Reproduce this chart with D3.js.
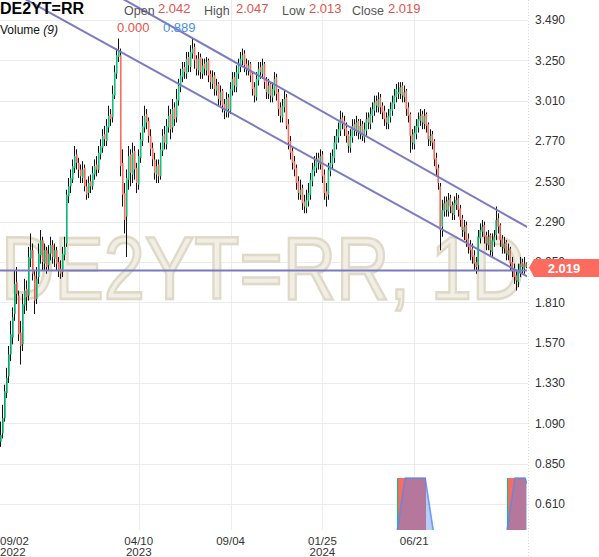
<!DOCTYPE html>
<html><head><meta charset="utf-8">
<script src="https://cdn.jsdelivr.net/npm/d3@7"></script>
<style>html,body{margin:0;padding:0;background:#fff;overflow:hidden}svg{display:block}text{font-family:"Liberation Sans",Arial,sans-serif}</style>
</head><body><svg id="c" width="599" height="557"></svg>
<script>
// ---------------- DATA ----------------
const symbol = "DE2YT=RR";
const watermarkText = "DE2YT=RR, 1D";
const open = [0.98,1.03,1.12,1.27,1.37,1.50,1.60,1.74,1.93,1.85,
1.63,1.56,1.79,1.89,1.85,2.07,2.12,1.97,1.83,1.96,
2.09,2.18,2.04,2.12,2.03,2.10,2.15,2.07,2.12,2.05,
2.01,1.99,2.09,2.16,2.44,2.50,2.54,2.61,2.69,2.64,
2.60,2.55,2.61,2.50,2.46,2.53,2.50,2.57,2.63,2.60,
2.69,2.73,2.81,2.77,2.85,2.93,2.91,3.04,3.17,3.27,
3.28,2.64,2.46,2.32,2.54,2.69,2.57,2.71,2.61,2.51,
2.67,2.77,2.85,2.93,2.89,2.80,2.73,2.66,2.57,2.63,
2.56,2.71,2.81,2.75,2.85,2.93,2.85,2.97,2.91,3.01,
3.09,3.15,3.21,3.17,3.27,3.21,3.29,3.33,3.26,3.19,
3.27,3.17,3.23,3.19,3.25,3.17,3.11,3.16,3.07,3.11,
3.01,3.07,2.99,2.94,3.03,2.95,3.07,3.15,3.09,3.17,
3.21,3.25,3.29,3.23,3.19,3.23,3.17,3.09,3.03,3.13,
3.21,3.17,3.23,3.13,3.05,3.11,3.03,3.07,3.15,3.06,
2.97,2.91,2.97,3.03,2.87,2.77,2.71,2.65,2.61,2.53,
2.45,2.49,2.41,2.37,2.41,2.45,2.53,2.59,2.61,2.67,
2.63,2.69,2.57,2.47,2.45,2.59,2.63,2.67,2.75,2.79,
2.83,2.91,2.89,2.85,2.81,2.73,2.79,2.87,2.83,2.89,
2.81,2.87,2.79,2.83,2.91,2.87,2.92,2.95,3.01,2.97,
3.03,2.98,2.95,2.91,2.87,2.91,2.95,2.99,3.03,3.05,
3.05,3.10,3.03,3.07,2.97,2.93,2.81,2.75,2.81,2.85,
2.89,2.93,2.87,2.93,2.87,2.77,2.81,2.77,2.67,2.61,
2.50,2.26,2.35,2.41,2.35,2.43,2.39,2.33,2.39,2.43,
2.37,2.31,2.23,2.27,2.19,2.15,2.13,2.09,2.05,2.03,
2.19,2.23,2.27,2.21,2.15,2.21,2.11,2.17,2.21,2.31,
2.27,2.19,2.13,2.17,2.09,2.13,2.05,2.01,1.97,1.93,
1.99,2.05,2.01,2.042];
const high = [1.10,1.20,1.32,1.42,1.55,1.70,1.78,2.00,2.02,1.88,
1.70,1.86,1.95,1.94,2.14,2.22,2.16,2.00,2.02,2.16,
2.24,2.20,2.16,2.14,2.15,2.20,2.18,2.16,2.14,2.08,
2.06,2.14,2.20,2.48,2.55,2.60,2.66,2.74,2.72,2.67,
2.63,2.65,2.63,2.54,2.56,2.57,2.62,2.66,2.68,2.74,
2.78,2.84,2.86,2.90,2.98,2.96,3.10,3.22,3.32,3.38,
3.32,2.72,2.52,2.60,2.74,2.72,2.76,2.74,2.64,2.72,
2.82,2.92,2.98,2.96,2.91,2.84,2.76,2.70,2.66,2.66,
2.76,2.84,2.86,2.90,2.98,2.96,3.02,3.00,3.08,3.14,
3.20,3.24,3.24,3.30,3.30,3.34,3.38,3.35,3.28,3.30,
3.29,3.26,3.26,3.27,3.26,3.19,3.19,3.18,3.14,3.12,
3.10,3.08,3.02,3.06,3.05,3.12,3.18,3.18,3.22,3.26,
3.30,3.32,3.31,3.26,3.25,3.24,3.18,3.12,3.18,3.24,
3.24,3.26,3.24,3.15,3.14,3.12,3.12,3.18,3.17,3.08,
3.00,3.02,3.07,3.05,2.90,2.80,2.74,2.68,2.63,2.56,
2.54,2.51,2.45,2.48,2.52,2.58,2.64,2.68,2.70,2.70,
2.72,2.71,2.60,2.52,2.64,2.70,2.72,2.80,2.84,2.88,
2.95,2.94,2.92,2.88,2.83,2.84,2.90,2.90,2.92,2.90,
2.90,2.89,2.88,2.94,2.94,2.97,3.00,3.04,3.04,3.06,
3.05,3.00,2.98,2.94,2.96,3.00,3.04,3.08,3.11,3.12,
3.12,3.12,3.10,3.08,3.00,2.94,2.84,2.86,2.90,2.94,
2.96,2.95,2.96,2.94,2.88,2.84,2.83,2.78,2.70,2.63,
2.52,2.42,2.44,2.44,2.46,2.45,2.41,2.44,2.46,2.45,
2.39,2.33,2.30,2.29,2.22,2.18,2.16,2.12,2.08,2.24,
2.28,2.30,2.29,2.23,2.24,2.22,2.22,2.24,2.38,2.34,
2.28,2.21,2.20,2.18,2.16,2.14,2.08,2.04,2.00,2.04,
2.08,2.07,2.08,2.047];
const low = [0.95,1.00,1.10,1.24,1.33,1.46,1.56,1.70,1.80,1.58,
1.44,1.52,1.74,1.76,1.82,2.02,1.94,1.74,1.80,1.92,
2.04,2.00,2.00,1.98,2.00,2.06,2.04,2.02,2.00,1.96,
1.95,1.96,2.06,2.14,2.40,2.46,2.52,2.58,2.60,2.55,
2.52,2.52,2.47,2.42,2.43,2.46,2.48,2.54,2.56,2.58,
2.66,2.70,2.74,2.74,2.82,2.86,2.88,3.02,3.14,3.24,
2.56,2.38,2.22,2.08,2.48,2.50,2.52,2.54,2.46,2.48,
2.64,2.74,2.82,2.84,2.76,2.68,2.62,2.54,2.52,2.52,
2.54,2.68,2.72,2.72,2.82,2.78,2.82,2.86,2.88,2.98,
3.06,3.12,3.14,3.14,3.18,3.18,3.26,3.20,3.16,3.16,
3.14,3.14,3.16,3.16,3.12,3.08,3.08,3.04,3.04,2.98,
2.98,2.94,2.90,2.91,2.91,2.93,3.04,3.06,3.06,3.14,
3.18,3.22,3.18,3.16,3.16,3.12,3.04,3.00,3.01,3.10,
3.14,3.14,3.08,3.02,3.02,3.00,3.00,3.04,3.01,2.92,
2.88,2.88,2.94,2.84,2.72,2.66,2.60,2.56,2.48,2.42,
2.42,2.36,2.34,2.34,2.38,2.42,2.50,2.56,2.58,2.60,
2.60,2.52,2.42,2.38,2.42,2.56,2.60,2.64,2.72,2.76,
2.80,2.84,2.80,2.76,2.70,2.70,2.76,2.80,2.80,2.78,
2.78,2.77,2.76,2.80,2.84,2.84,2.88,2.92,2.94,2.94,
2.93,2.90,2.86,2.84,2.84,2.88,2.92,2.96,3.00,3.02,
3.02,3.00,3.00,2.92,2.88,2.70,2.72,2.72,2.78,2.82,
2.86,2.84,2.84,2.82,2.74,2.74,2.72,2.62,2.56,2.48,
2.12,2.20,2.32,2.32,2.32,2.34,2.30,2.30,2.36,2.32,
2.26,2.20,2.18,2.14,2.10,2.06,2.04,2.00,1.98,2.00,
2.16,2.20,2.16,2.12,2.12,2.08,2.08,2.14,2.18,2.22,
2.14,2.10,2.10,2.06,2.06,2.00,1.96,1.92,1.88,1.90,
1.96,1.98,1.98,2.013];
const close = [1.02,1.12,1.28,1.36,1.50,1.62,1.72,1.92,1.86,1.62,
1.55,1.80,1.88,1.84,2.08,2.12,1.98,1.82,1.95,2.10,
2.18,2.05,2.12,2.02,2.10,2.15,2.08,2.12,2.04,2.00,
1.98,2.10,2.14,2.45,2.50,2.55,2.62,2.68,2.64,2.60,
2.56,2.60,2.50,2.45,2.52,2.50,2.58,2.62,2.60,2.70,
2.74,2.80,2.78,2.86,2.92,2.90,3.05,3.18,3.28,3.30,
2.62,2.45,2.30,2.55,2.68,2.58,2.70,2.60,2.52,2.68,
2.78,2.86,2.92,2.88,2.80,2.72,2.66,2.58,2.62,2.56,
2.72,2.80,2.76,2.86,2.92,2.84,2.96,2.90,3.02,3.10,
3.16,3.20,3.18,3.26,3.22,3.30,3.32,3.25,3.20,3.26,
3.18,3.22,3.20,3.24,3.16,3.12,3.15,3.08,3.10,3.02,
3.06,2.98,2.95,3.02,2.96,3.08,3.14,3.10,3.18,3.22,
3.26,3.28,3.22,3.20,3.22,3.16,3.08,3.04,3.14,3.20,
3.18,3.22,3.12,3.06,3.10,3.04,3.08,3.14,3.05,2.96,
2.92,2.98,3.02,2.86,2.76,2.70,2.64,2.60,2.52,2.46,
2.48,2.40,2.38,2.42,2.46,2.54,2.60,2.62,2.66,2.64,
2.68,2.56,2.46,2.44,2.60,2.64,2.68,2.76,2.80,2.84,
2.90,2.88,2.84,2.80,2.74,2.80,2.86,2.84,2.88,2.82,
2.86,2.80,2.84,2.90,2.88,2.93,2.96,3.00,2.98,3.02,
2.97,2.94,2.90,2.88,2.92,2.96,3.00,3.04,3.08,3.06,
3.09,3.04,3.06,2.96,2.92,2.80,2.76,2.82,2.86,2.90,
2.92,2.88,2.92,2.86,2.78,2.80,2.76,2.66,2.60,2.52,
2.24,2.36,2.40,2.36,2.42,2.38,2.34,2.40,2.42,2.36,
2.30,2.24,2.26,2.18,2.14,2.12,2.08,2.04,2.02,2.20,
2.24,2.26,2.20,2.16,2.20,2.12,2.18,2.20,2.30,2.26,
2.18,2.14,2.16,2.10,2.12,2.04,2.00,1.96,1.94,2.00,
2.04,2.02,2.04,2.019];

// x-axis ticks (bar index, label, year)
const tickIndex = [0, 69, 115, 161, 207];
const tickDate = ["09/02", "04/10", "09/04", "01/25", "06/21"];
const tickYear = ["2022", "2023", "", "2024", ""];
// y-axis ticks
const yTicks = [0.61,0.85,1.09,1.33,1.57,1.81,2.05,2.29,2.53,2.77,3.01,3.25,3.49];

// volume (sparse: bar index, value, up-bar flag)
const volIndex = [199,200,201,202,203,204,205,206,207,208,209,210,211,212, 254,255,256,257,258,259,260,261,262];
const volValue = [1,1,1,1,1,1,1,1,1,1,1,1,1,1, 1,1,1,1,1,1,1,1,1];
const volUp    = [1,0,0,0,0,0,0,0,0,0,0,0,0,0, 1,0,0,0,0,0,0,0,0];
// volume moving average (9) outline points (bar position, value)
const maSeg1Pos = [199, 203, 213, 217];
const maSeg1Val = [0, 1, 1, 0];
const maSeg2Pos = [254, 258, 263, 264];
const maSeg2Val = [0, 1, 1, 0.889];

// trend lines (bar index, value) anchors
const upperTrend = [[132, 3.14], [220, 2.55]];
const lowerTrend = [[60, 3.30], [220, 2.25]];
const hLineValue = 2.00;

// header values
const ohlcLabels = ["Open", "High", "Low", "Close"];
const ohlcValues = ["2.042", "2.047", "2.013", "2.019"];
const volumeTitle = "Volume";
const volumePeriod = "(9)";
const volumeValues = ["0.000", "0.889"];
const lastPrice = 2.019;

// ---------------- CHART ----------------
const svg = d3.select("#c");
const N = close.length;
const PR = 527, PB = 530;
const x = d3.scaleBand().domain(d3.range(N)).range([0, PR]);
const xl = d3.scaleLinear().domain([0, N]).range([0, PR]);
const bw = x.bandwidth();
const y = d3.scaleLinear().domain([0.455, 3.609]).range([PB, 0]);
const vy = d3.scaleLinear().domain([0, 1]).range([PB, 478]);
const FONT = "Liberation Sans, Arial, sans-serif";

svg.append("defs").append("clipPath").attr("id", "plot")
  .append("rect").attr("x", 0).attr("y", 0).attr("width", PR).attr("height", PB);

// grid
svg.append("g").selectAll("line").data(yTicks).join("line")
  .attr("x1", 0).attr("x2", 528)
  .attr("y1", d => Math.round(y(d)) + 0.5).attr("y2", d => Math.round(y(d)) + 0.5)
  .attr("stroke", "#ececec").attr("stroke-width", 1);
svg.append("g").selectAll("line").data(tickIndex.slice(1)).join("line")
  .attr("x1", d => Math.round(x(d) + bw / 2) + 0.5).attr("x2", d => Math.round(x(d) + bw / 2) + 0.5)
  .attr("y1", 0).attr("y2", PB)
  .attr("stroke", "#ececec").attr("stroke-width", 1);
svg.append("line").attr("x1", 528.5).attr("x2", 528.5).attr("y1", 0).attr("y2", 557)
  .attr("stroke", "#d9d9d9").attr("stroke-dasharray", "1,2");

// watermark (stretched vertically)
svg.append("text").attr("transform", "translate(1,299) scale(1,1.2)")
  .attr("font-size", 74)
  .attr("fill", "#f1eee6").attr("stroke", "#e0d9c6").attr("stroke-width", 2.2)
  .text(watermarkText);

const plot = svg.append("g").attr("clip-path", "url(#plot)");

// candles
const bars = d3.range(N);
plot.append("g").selectAll("rect").data(bars).join("rect")
  .attr("x", i => Math.floor(x(i) + bw / 2))
  .attr("width", 1)
  .attr("y", i => y(high[i]))
  .attr("height", i => Math.max(1, y(low[i]) - y(high[i])))
  .attr("fill", "#111");
plot.append("g").selectAll("rect").data(bars).join("rect")
  .attr("x", i => x(i) + bw * 0.5 - 0.8)
  .attr("width", 1.6)
  .attr("y", i => y(Math.max(open[i], close[i])))
  .attr("height", i => Math.max(1, Math.abs(y(open[i]) - y(close[i]))))
  .attr("fill", i => close[i] >= open[i] ? "#12c27c" : "#fd6a5e");

// trend lines
function trend(a) {
  const x1 = x(a[0][0]) + bw / 2, y1 = y(a[0][1]);
  const x2 = x(a[1][0]) + bw / 2, y2 = y(a[1][1]);
  const s = (y2 - y1) / (x2 - x1);
  return [[-20, y1 + s * (-20 - x1)], [PR + 20, y1 + s * (PR + 20 - x1)]];
}
const tl = plot.append("g").attr("stroke", "#7b7bc2").attr("stroke-width", 2).attr("fill", "none");
[upperTrend, lowerTrend].forEach(t => {
  tl.append("path").attr("d", d3.line()(trend(t)));
});
tl.append("line").attr("x1", 0).attr("x2", PR).attr("y1", y(hLineValue)).attr("y2", y(hLineValue));

// volume
const vol = plot.append("g");
vol.selectAll("rect").data(volIndex).join("rect")
  .attr("x", (d, k) => Math.floor(x(d))).attr("width", (d, k) => Math.ceil(bw) + 1)
  .attr("y", (d, k) => vy(volValue[k])).attr("height", (d, k) => PB - vy(volValue[k]))
  .attr("shape-rendering", "crispEdges")
  .attr("fill", "#fd6a5e");
vol.selectAll("rect.up").data(volIndex.filter((d, k) => volUp[k])).join("rect").attr("class", "up")
  .attr("x", d => Math.floor(x(d))).attr("width", 1.2)
  .attr("y", vy(1)).attr("height", PB - vy(1))
  .attr("fill", "#12c27c");
const area = d3.area().x(d => xl(d[0])).y0(PB).y1(d => vy(d[1]));
const line = d3.line().x(d => xl(d[0])).y(d => vy(d[1]));
[[maSeg1Pos, maSeg1Val], [maSeg2Pos, maSeg2Val]].forEach(([p, v]) => {
  const pts = p.map((d, k) => [d, v[k]]);
  vol.append("path").attr("d", area(pts)).attr("fill", "rgba(82,138,240,0.42)");
  vol.append("path").attr("d", line(pts)).attr("fill", "none").attr("stroke", "rgba(82,138,240,0.8)").attr("stroke-width", 1.6);
});

// y axis
const ya = svg.append("g").attr("transform", "translate(535,0)")
  .call(d3.axisRight(y).tickValues(yTicks).tickFormat(d3.format(".3f")).tickSize(0).tickPadding(0));
ya.select(".domain").remove();
ya.selectAll("text").attr("font-size", 12).attr("fill", "#333").attr("font-family", FONT);

// x axis
const xa = svg.append("g").attr("transform", `translate(0,${PB})`)
  .call(d3.axisBottom(x).tickValues(tickIndex).tickFormat(d => tickDate[tickIndex.indexOf(d)]).tickSize(0).tickPadding(0));
xa.select(".domain").remove();
xa.selectAll(".tick text").attr("y", 15).attr("dy", null)
  .attr("font-size", 11.5).attr("fill", "#333").attr("font-family", FONT);
xa.selectAll(".tick").append("text")
  .attr("y", 26).attr("font-size", 11.5).attr("fill", "#333")
  .attr("text-anchor", "middle").attr("font-family", FONT)
  .text(d => tickYear[tickIndex.indexOf(d)]);
xa.selectAll(".tick").filter(d => d === 0).selectAll("text").attr("text-anchor", "start").attr("x", -1);

// price box
const py = Math.round(y(lastPrice));
svg.append("path")
  .attr("d", `M529,${py + 0.5} L534,${py - 8} L599,${py - 8} L599,${py + 10} L534,${py + 10} Z`)
  .attr("fill", "#fd6a5e");
svg.append("text").attr("x", 564).attr("y", py + 6).attr("text-anchor", "middle")
  .attr("font-size", 13).attr("font-weight", "bold").attr("fill", "#fff").text(d3.format(".3f")(lastPrice));

// header
const hdr = svg.append("g");
hdr.append("text").attr("x", 0).attr("y", 14).attr("font-size", 16).attr("font-weight", "bold").attr("fill", "#000").text(symbol);
const labX = [124, 204, 282, 352], valX = [158, 236, 309, 388];
ohlcLabels.forEach((l, k) => {
  hdr.append("text").attr("x", labX[k]).attr("y", 15).attr("font-size", 12.5).attr("fill", "#555").text(l);
  hdr.append("text").attr("x", valX[k]).attr("y", 13).attr("font-size", 13).attr("fill", "#e5534b").text(ohlcValues[k]);
});
const vt = hdr.append("text").attr("x", 0).attr("y", 34).attr("font-size", 12).attr("fill", "#111");
vt.append("tspan").text(volumeTitle + " ");
vt.append("tspan").attr("font-style", "italic").text(volumePeriod);
hdr.append("text").attr("x", 117).attr("y", 32).attr("font-size", 13).attr("fill", "#e5534b").text(volumeValues[0]);
hdr.append("text").attr("x", 163).attr("y", 32).attr("font-size", 13).attr("fill", "#4a90e2").text(volumeValues[1]);
</script></body></html>
